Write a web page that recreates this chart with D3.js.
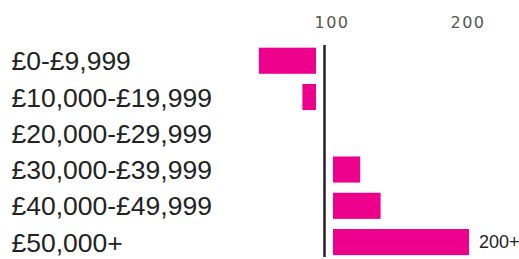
<!DOCTYPE html>
<html>
<head>
<meta charset="utf-8">
<script src="https://d3js.org/d3.v7.min.js"></script>
<style>
  body { margin: 0; background: #fff; }
  .tick text { font-family: "DejaVu Sans", sans-serif; font-size: 16px; fill: #555; letter-spacing: 1.5px; }
</style>
</head>
<body>
<div id="chart"></div>
<script>
// income bands and index values (100 = average)
var bands = ["£0-£9,999", "£10,000-£19,999", "£20,000-£29,999", "£30,000-£39,999", "£40,000-£49,999", "£50,000+"];
var values = [58, 90, 100, 120, 135, 200];
var endLabels = ["", "", "", "", "", "200+"];
var tickValues = [100, 200];

var width = 519, height = 259;
var gap = 8.5; // space between centre line and bars

var svg = d3.select("#chart").append("svg")
  .attr("width", width)
  .attr("height", height);

// centre-line scale
var x = d3.scaleLinear()
  .domain([100, 200])
  .range([324.5, 460.5]);

var y = d3.scaleBand()
  .domain(bands)
  .range([42.6, 260.2])
  .paddingInner(0.28)
  .paddingOuter(0.14);

// tick labels on top
var axis = svg.append("g")
  .attr("transform", "translate(" + (gap - 1.5) + ",27.5)")
  .call(d3.axisTop(x).tickValues(tickValues).tickSize(0).tickPadding(0));
axis.select(".domain").remove();

var rows = bands.map(function (b, i) { return { band: b, value: values[i], label: endLabels[i] }; });

// bars
svg.selectAll("rect.bar")
  .data(rows.filter(function (d) { return d.value != 100; }))
  .enter()
  .append("rect")
  .attr("class", "bar")
  .attr("x", function (d) { return d.value > 100 ? x(100) + gap : x(d.value) - gap; })
  .attr("width", function (d) { return Math.abs(x(d.value) - x(100)); })
  .attr("y", function (d) { return y(d.band); })
  .attr("height", y.bandwidth())
  .attr("fill", "#ec008c");

// centre line
svg.append("line")
  .attr("x1", x(100)).attr("x2", x(100))
  .attr("y1", 45).attr("y2", 257)
  .attr("stroke", "#222")
  .attr("stroke-width", 2.5);

// category labels
svg.selectAll("text.cat")
  .data(rows)
  .enter()
  .append("text")
  .attr("class", "cat")
  .attr("x", 11.5)
  .attr("y", function (d) { return y(d.band) + y.bandwidth() / 2; })
  .attr("dy", "0.36em")
  .style("font-family", "'Liberation Sans', Arial, sans-serif")
  .style("font-size", "26.5px")
  .style("fill", "#222")
  .text(function (d) { return d.band; });

// end labels
svg.selectAll("text.end")
  .data(rows.filter(function (d) { return d.label; }))
  .enter()
  .append("text")
  .attr("class", "end")
  .attr("x", function (d) { return x(d.value) + gap + 10; })
  .attr("y", function (d) { return y(d.band) + y.bandwidth() / 2; })
  .attr("dy", "0.35em")
  .style("font-family", "'Liberation Sans', Arial, sans-serif")
  .style("font-size", "18px")
  .style("fill", "#222")
  .text(function (d) { return d.label; });
</script>
</body>
</html>
